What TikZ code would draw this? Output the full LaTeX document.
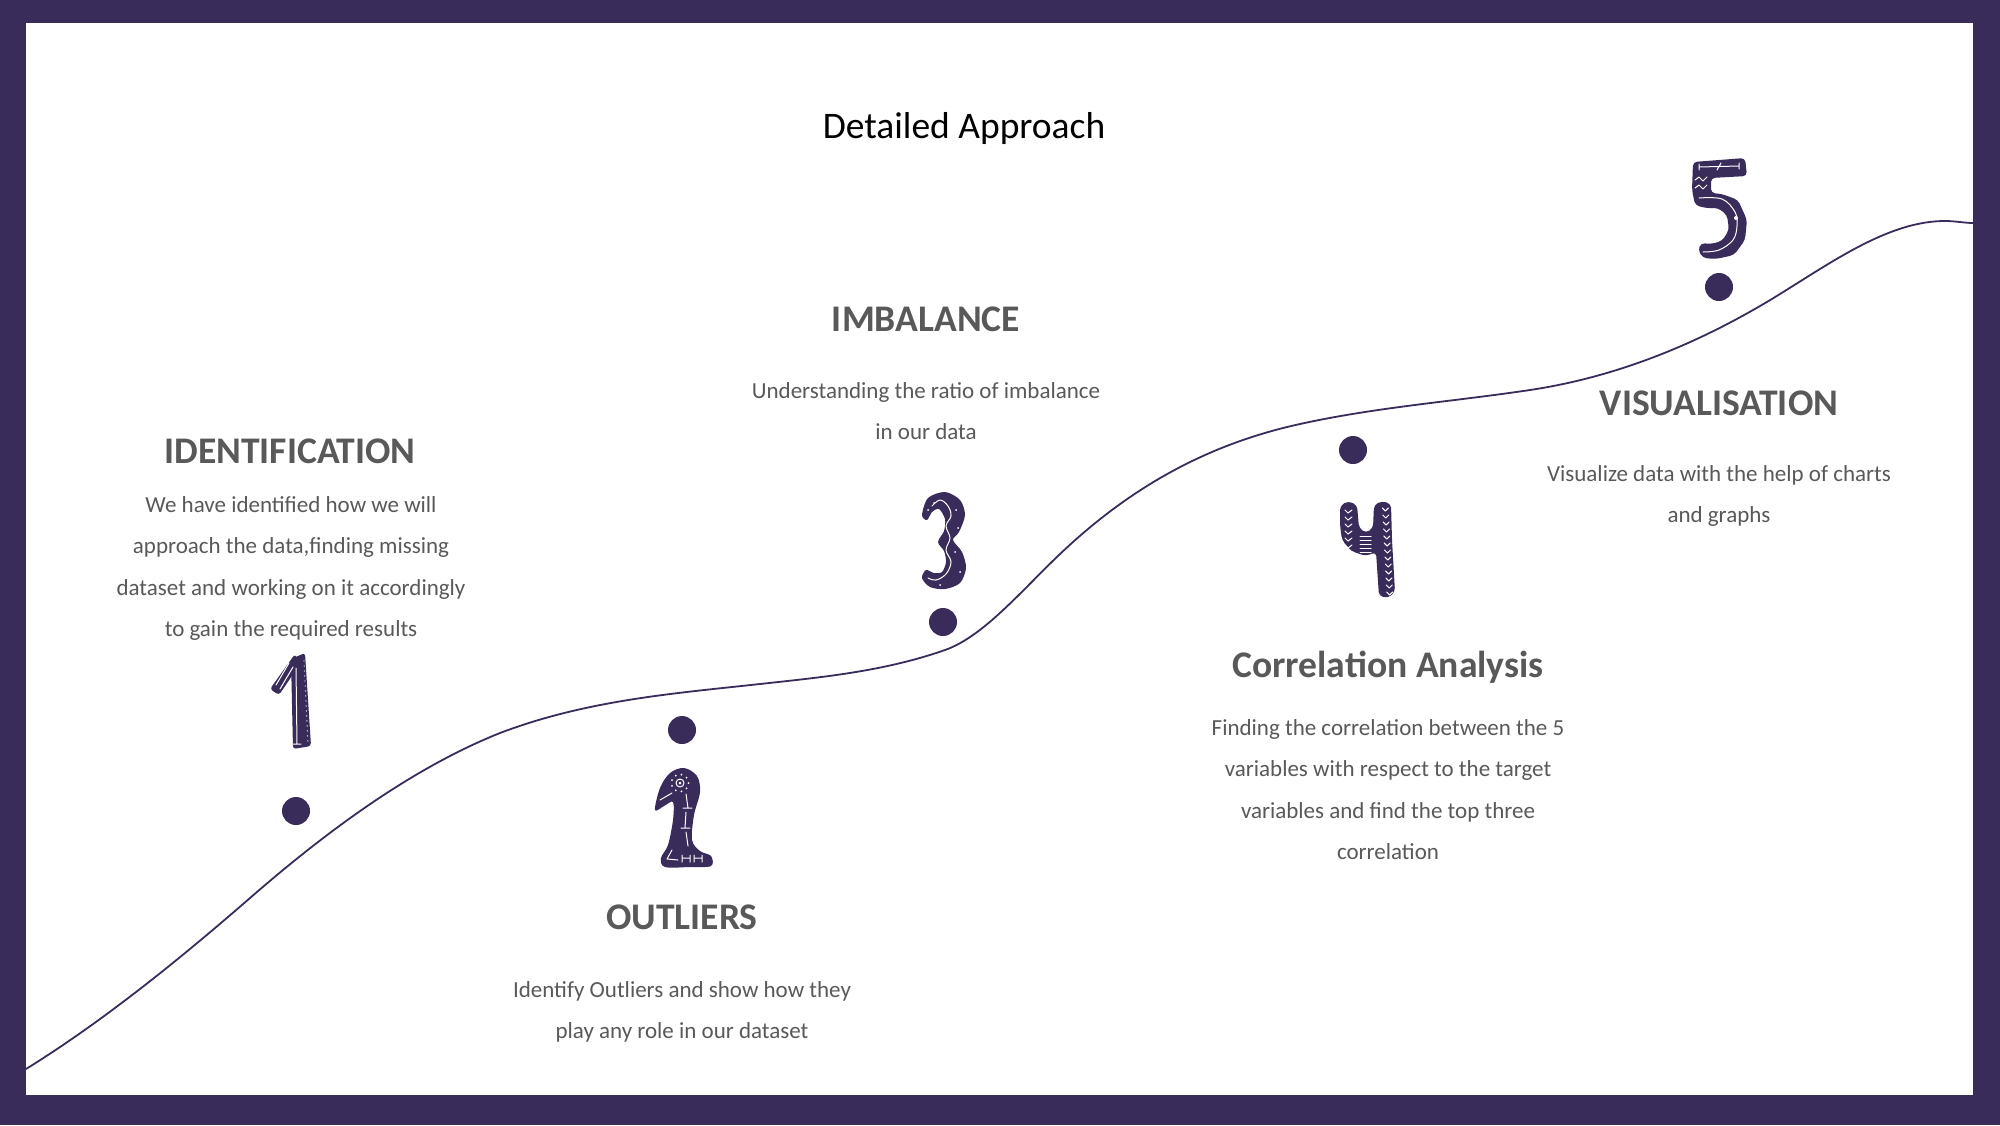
\documentclass[tikz,border=0pt]{standalone}
\usepackage{fontspec}
\usetikzlibrary{calc}
\setmainfont{Carlito}
\definecolor{brand}{HTML}{3A2C5A}
\definecolor{txtgray}{HTML}{595959}
\begin{document}
\begin{tikzpicture}[x=1pt,y=-1pt,
  heading/.style={font=\fontsize{37.6}{44}\selectfont\bfseries, text=txtgray, anchor=base, inner sep=0pt},
  body/.style={font=\fontsize{23}{41.5}\selectfont, text=txtgray, align=center, anchor=base, inner sep=0pt},
  dot/.style={circle, fill=brand, minimum size=28pt, inner sep=0pt},
  deco/.style={draw=white, line width=1pt, line cap=round, line join=round},
]
\useasboundingbox (0,0) rectangle (2000,1125);

% frame
\fill[brand] (0,0) rectangle (2000,1125);
\fill[white] (26,23) rectangle (1973,1095);

% the rising path, built from cubic segments with matched tangents
\draw[brand, line width=1.8pt]
  (26,1069) .. controls (100.7,1022.7) and (175.3,963) .. (250,898)
  .. controls (333.3,825.5) and (416.7,766.3) .. (500,733)
  .. controls (586.7,700.1) and (673.3,693.5) .. (760,684)
  .. controls (821.7,677.2) and (883.3,671.6) .. (945,650)
  .. controls (983.3,636.6) and (1021.7,590.4) .. (1060,554)
  .. controls (1140,478) and (1220,441.6) .. (1300,424)
  .. controls (1376.7,407.1) and (1453.3,401.5) .. (1530,390)
  .. controls (1613.3,377.5) and (1696.7,345.6) .. (1780,294)
  .. controls (1835,259.9) and (1890,221) .. (1945,221)
  .. controls (1955,221) and (1965,223) .. (1973,223);

% title
\node[font=\fontsize{37.5}{44}\selectfont, text=black, anchor=base, inner sep=0pt] (title) at (964,138) {Detailed Approach};

% markers
\node[dot] (d1) at (296,811) {};
\node[dot] (d2) at (682,730) {};
\node[dot] (d3) at (943,622) {};
\node[dot] (d4) at (1353,450) {};
\node[dot] (d5) at (1719,287) {};

% headings and descriptions (descriptions are placed by their last baseline)
\node[heading] (h1) at (290,463) {IDENTIFICATION};
\node[body] (b1) at (291,636.5) {We have identified how we will\\approach the data,finding missing\\dataset and working on it accordingly\\to gain the required results};

\node[heading] (h2) at (682,929) {OUTLIERS};
\node[body] (b2) at (682,1038.5) {Identify Outliers and show how they\\play any role in our dataset};

\node[heading] (h3) at (926,331) {IMBALANCE};
\node[body] (b3) at (926,439.5) {Understanding the ratio of imbalance\\in our data};

\node[heading] (h4) at (1388,677) {Correlation Analysis};
\node[body] (b4) at (1388,859.5) {Finding the correlation between the 5\\variables with respect to the target\\variables and find the top three\\correlation};

\node[heading] (h5) at (1719,415) {VISUALISATION};
\node[body] (b5) at (1719,522.5) {Visualize data with the help of charts\\and graphs};

% ---- ornamental numerals ----
% one
\fill[brand, rounded corners=3pt] (291,659) -- (305,653) -- (311,746) -- (293,749) -- cycle;
\fill[brand, rounded corners=3pt] (295,654) -- (300,664) -- (279,695) -- (270,689) -- cycle;
\draw[white, line width=1.4pt, line cap=round, dash pattern=on 0pt off 5pt] (304,661) -- (308,743);
\draw[deco] (296,668) -- (297,744) (293,744) -- (301,744);
\draw[deco] (289,663) -- (276,685) (293,667) -- (280,689);

% two
\fill[brand] plot[smooth cycle, tension=0.55] coordinates {(655,810) (660,788) (670,773) (684,768) (697,776) (700,792) (694,815) (692,840) (700,851) (711,856) (711,866) (690,867) (665,867) (661,858) (668,845) (673,820) (673,802) (664,806)};
\draw[deco] (680,783) circle (4);
\fill[white] (680,783) circle (1.5);
\foreach \a in {0,40,...,320} \fill[white] ($(680,783)+(\a:8.5)$) circle (1);
\draw[deco] (660,800) -- (672,793) (686,794) -- (688,808) (683,808) -- (692,808)
  (686,812) -- (685,828) (681,828) -- (690,828) (686,832) -- (688,846)
  (672,850) -- (667,859) -- (678,860) (682,855) -- (682,862) (682,858) -- (690,858)
  (690,855) -- (690,862) (694,855) -- (694,862) (694,858) -- (702,858) (702,855) -- (702,862);

% three
\fill[brand] plot[smooth cycle, tension=0.5] coordinates {(922,515) (928,498) (945,492) (960,500) (965,515) (959,532) (953,540) (962,552) (966,568) (960,583) (945,589) (930,587) (922,578) (926,570) (934,573) (942,572) (946,562) (944,551) (938,542) (944,531) (945,519) (939,509) (932,512) (927,520)};
\draw[deco] plot[smooth, tension=0.6] coordinates {(932,506) (940,500) (948,506) (951,516) (946,526) (950,538) (946,550) (951,562) (946,574) (936,580) (928,578)};
\foreach \p in {(928,510),(956,510),(958,528),(955,552),(960,572),(940,585),(934,503)} \fill[white] \p circle (1);

% four
\fill[brand, rounded corners=4pt] (1340,506) -- (1348,501) -- (1357,505) -- (1359,528) -- (1366,533) -- (1373,528) -- (1374,505) -- (1382,501) -- (1391,504) -- (1392,540) -- (1395,592) -- (1388,598) -- (1379,596) -- (1376,552) -- (1366,556) -- (1351,551) -- (1342,540) -- (1340,525) -- cycle;
\foreach \y in {510,517,...,545} \draw[deco] (1345,\y) -- (1348,\y+3) -- (1352,\y);
\foreach \y in {508,515,...,592} \draw[deco] ($(1382,\y)+(0.05*\y-25,0)$) -- ++(3,3) -- ++(3,-3);
\foreach \y in {536,540,...,552} \draw[deco] (1360,\y) -- (1371,\y);

% five
\fill[brand, rounded corners=4pt] (1693,162) -- (1745,158) -- (1747,176) -- (1711,178) -- (1711,193) -- (1722,194) -- (1738,200) -- (1747,220) -- (1745,240) -- (1734,255) -- (1716,259) -- (1703,258) -- (1698,250) -- (1701,243) -- (1711,244) -- (1722,241) -- (1729,230) -- (1727,215) -- (1718,208) -- (1705,208) -- (1695,205) -- (1692,190) -- cycle;
\draw[deco] (1699,167) -- (1739,166) (1699,164) -- (1699,170) (1739,163) -- (1739,169) (1717,170) -- (1721,163);
\draw[deco] (1695,180) -- (1699,177) -- (1703,181) -- (1707,177) (1695,188) -- (1699,185) -- (1703,189) -- (1707,185);
\draw[deco] plot[smooth, tension=0.6] coordinates {(1699,198) (1722,199) (1735,212) (1737,226) (1733,240) (1719,250) (1703,252)};
\fill[white] (1736,218) circle (2);
\end{tikzpicture}
\end{document}
